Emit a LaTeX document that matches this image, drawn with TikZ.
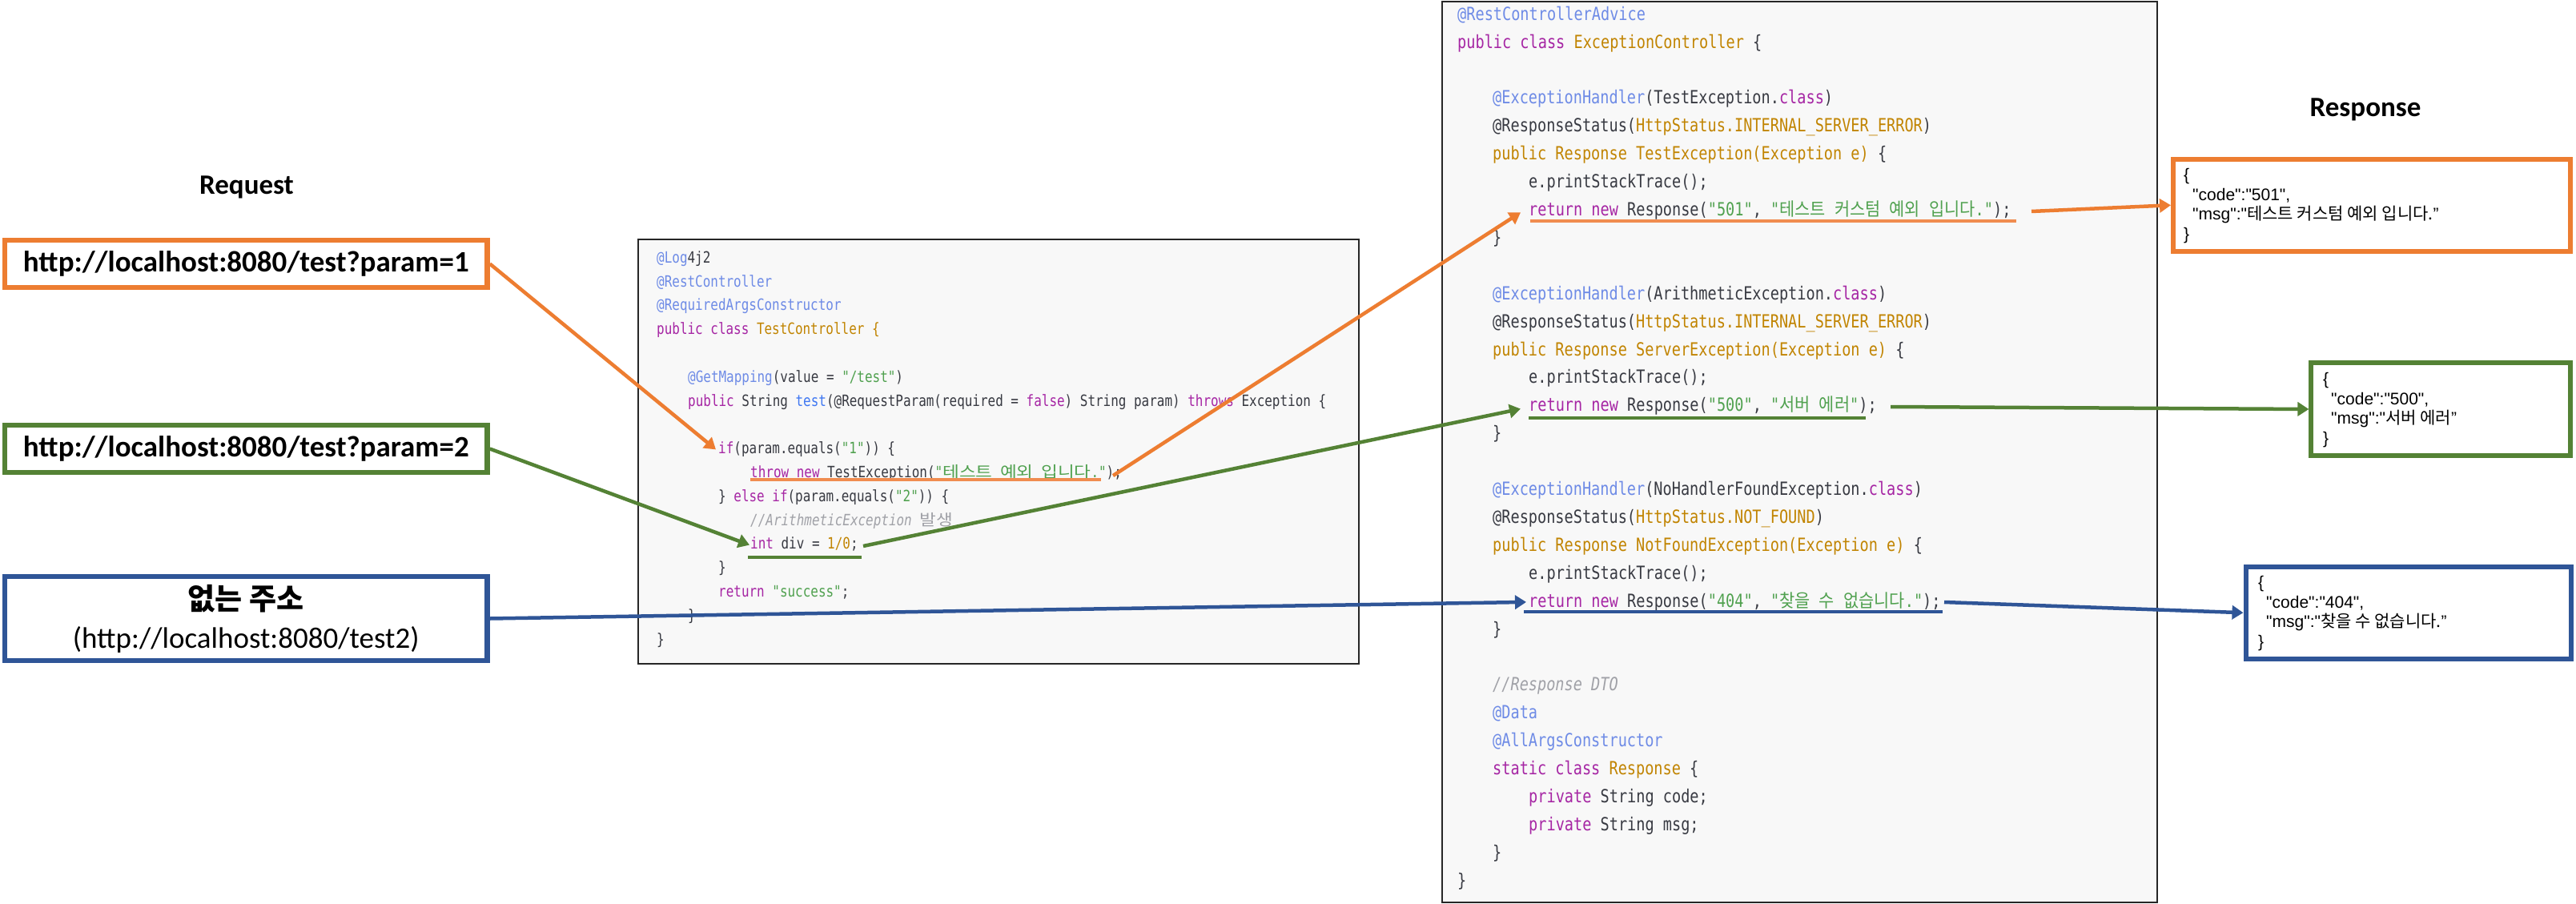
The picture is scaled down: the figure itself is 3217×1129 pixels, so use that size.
\documentclass[tikz,border=0pt]{standalone}
\usepackage{fontspec}
\setmainfont{Carlito}
\newfontfamily\codefont[FakeStretch=0.82]{DejaVu Sans Mono}
\newfontfamily\krA[FakeStretch=1.16]{Noto Sans CJK KR}
\newfontfamily\krB[FakeStretch=0.92]{Noto Sans CJK KR}
\newfontfamily\krH{Noto Sans CJK KR}
\newfontfamily\arialf{Liberation Sans}
\usetikzlibrary{arrows.meta}

\definecolor{orng}{HTML}{ED7D31}
\definecolor{orngu}{RGB}{240,140,80}
\definecolor{grn}{HTML}{548235}
\definecolor{blu}{HTML}{2F5597}
\definecolor{annc}{RGB}{110,139,230}
\definecolor{kwc}{RGB}{166,38,164}
\definecolor{clsc}{RGB}{193,132,1}
\definecolor{strc}{RGB}{80,161,79}
\definecolor{fnc}{RGB}{64,120,242}
\definecolor{cmtc}{RGB}{160,161,167}
\definecolor{txtc}{RGB}{56,58,66}
\definecolor{codebgc}{RGB}{248,248,248}

\newcommand{\hlA}[1]{\textcolor{annc}{#1}}
\newcommand{\hlK}[1]{\textcolor{kwc}{#1}}
\newcommand{\hlC}[1]{\textcolor{clsc}{#1}}
\newcommand{\hlS}[1]{\textcolor{strc}{#1}}
\newcommand{\hlF}[1]{\textcolor{fnc}{#1}}
\newcommand{\hlM}[1]{\textcolor{cmtc}{#1}}
\newcommand{\KA}[1]{{\krA #1}}
\newcommand{\KB}[1]{{\krB #1}}

\tikzset{
  reqbox/.style={draw, line width=6.5pt, fill=white, inner sep=0pt, align=center,
    font=\fontsize{37}{48}\selectfont},
  respbox/.style={draw, line width=6pt, fill=white, inner sep=0pt},
  codebg/.style={draw=black!85, line width=2.2pt, fill=codebgc},
  mline/.style={anchor=west, inner sep=0pt, text height=14.6pt, text depth=3.9pt,
    font=\codefont\fontsize{19.45}{23}\selectfont, text=txtc},
  rline/.style={anchor=west, inner sep=0pt, text height=17pt, text depth=4.5pt,
    font=\codefont\fontsize{22.65}{27}\selectfont, text=txtc},
  conn/.style={line width=4.5pt, -{Triangle[length=14pt,width=17pt]}},
  uline/.style={line width=4pt},
  titletext/.style={font=\bfseries\fontsize{35}{42}\selectfont, inner sep=0pt},
  resptext/.style={anchor=west, align=left, inner sep=0pt,
    font=\arialf\fontsize{21}{24.7}\selectfont},
}

\begin{document}
\begin{tikzpicture}[x=1pt,y=-1pt]
\useasboundingbox (0,0) rectangle (3217,1129);
\fill[white] (0,0) rectangle (3217,1129);

% titles
\node[titletext] (reqtitle) at (308,234) {Request};
\node[titletext] (resptitle) at (2954,137) {Response};

% request boxes
\node[reqbox, draw=orng, minimum width=602.5, minimum height=59] (req1) at (307.25,329.5)
  {\bfseries http://localhost:8080/test?param=1};
\node[reqbox, draw=grn, minimum width=602.5, minimum height=59] (req2) at (307.25,560.5)
  {\bfseries http://localhost:8080/test?param=2};
\node[reqbox, draw=blu, minimum width=602.5, minimum height=105] (req3) at (307.25,772.5)
  {{\krH\bfseries 없는 주소}\\(http://localhost:8080/test2)};

% code boxes
\draw[codebg] (797,299) rectangle (1697,829);
\draw[codebg] (1801,2) rectangle (2694,1127);

% middle code (TestController)
\node[mline] (m0) at (820,323) {\hlA{@Log}4j2};
\node[mline] (m1) at (820,352.8) {\hlA{@RestController}};
\node[mline] (m2) at (820,382.6) {\hlA{@RequiredArgsConstructor}};
\node[mline] (m3) at (820,412.4) {\hlK{public} \hlK{class} \hlC{TestController \{}};
\node[mline] (m5) at (859,472) {\hlA{@GetMapping}(value = \hlS{"/test"})};
\node[mline] (m6) at (859,501.8) {\hlK{public} String \hlF{test}(@RequestParam(required = \hlK{false}) String param) \hlK{throws} Exception \{};
\node[mline] (m8) at (897,561.4) {\hlK{if}(param.equals(\hlS{"1"})) \{};
\node[mline] (m9) at (937,591.2) {\hlK{throw} \hlK{new} TestException(\hlS{"\KA{테스트} \KA{예외} \KA{입니다}."});};
\node[mline] (m10) at (897,621) {\} \hlK{else} \hlK{if}(param.equals(\hlS{"2"})) \{};
\node[mline] (m11) at (937,650.8) {\hlM{\itshape //ArithmeticException} \hlM{\KA{발생}}};
\node[mline] (m12) at (937,680.6) {\hlK{int} div = \hlC{1/0};};
\node[mline] (m13) at (897,710.4) {\}};
\node[mline] (m14) at (897,740.2) {\hlK{return} \hlS{"success"};};
\node[mline] (m15) at (859,770) {\}};
\node[mline] (m16) at (820,799.8) {\}};

% right code (ExceptionController)
\node[rline] (r0) at (1820,19) {\hlA{@RestControllerAdvice}};
\node[rline] (r1) at (1820,53.9) {\hlK{public} \hlK{class} \hlC{ExceptionController} \{};
\node[rline] (r3) at (1864,123.7) {\hlA{@ExceptionHandler}(TestException.\hlK{class})};
\node[rline] (r4) at (1864,158.6) {@ResponseStatus(\hlC{HttpStatus.INTERNAL\_SERVER\_ERROR})};
\node[rline] (r5) at (1864,193.5) {\hlC{public Response TestException(Exception e)} \{};
\node[rline] (r6) at (1909,228.4) {e.printStackTrace();};
\node[rline] (r7) at (1909,263.3) {\hlK{return} \hlK{new} Response(\hlS{"501"}, \hlS{"\KB{테스트} \KB{커스텀} \KB{예외} \KB{입니다}."});};
\node[rline] (r8) at (1864,298.2) {\}};
\node[rline] (r10) at (1864,368) {\hlA{@ExceptionHandler}(ArithmeticException.\hlK{class})};
\node[rline] (r11) at (1864,402.9) {@ResponseStatus(\hlC{HttpStatus.INTERNAL\_SERVER\_ERROR})};
\node[rline] (r12) at (1864,437.8) {\hlC{public Response ServerException(Exception e)} \{};
\node[rline] (r13) at (1909,472.7) {e.printStackTrace();};
\node[rline] (r14) at (1909,507.6) {\hlK{return} \hlK{new} Response(\hlS{"500"}, \hlS{"\KB{서버} \KB{에러}"});};
\node[rline] (r15) at (1864,542.5) {\}};
\node[rline] (r17) at (1864,612.3) {\hlA{@ExceptionHandler}(NoHandlerFoundException.\hlK{class})};
\node[rline] (r18) at (1864,647.2) {@ResponseStatus(\hlC{HttpStatus.NOT\_FOUND})};
\node[rline] (r19) at (1864,682.1) {\hlC{public Response NotFoundException(Exception e)} \{};
\node[rline] (r20) at (1909,717) {e.printStackTrace();};
\node[rline] (r21) at (1909,751.9) {\hlK{return} \hlK{new} Response(\hlS{"404"}, \hlS{"\KB{찾을} \KB{수} \KB{없습니다}."});};
\node[rline] (r22) at (1864,786.8) {\}};
\node[rline] (r24) at (1864,856.6) {\hlM{\itshape //Response DTO}};
\node[rline] (r25) at (1864,891.5) {\hlA{@Data}};
\node[rline] (r26) at (1864,926.4) {\hlA{@AllArgsConstructor}};
\node[rline] (r27) at (1864,961.3) {\hlK{static} \hlK{class} \hlC{Response} \{};
\node[rline] (r28) at (1909,996.2) {\hlK{private} String code;};
\node[rline] (r29) at (1909,1031.1) {\hlK{private} String msg;};
\node[rline] (r30) at (1864,1066) {\}};
\node[rline] (r31) at (1820,1100.9) {\}};

% response boxes
\node[respbox, draw=orng, minimum width=496, minimum height=114.5] (resp1) at (2962,256.25) {};
\node[respbox, draw=grn, minimum width=323.6, minimum height=116] (resp2) at (3048.2,511) {};
\node[respbox, draw=blu, minimum width=406.5, minimum height=114.5] (resp3) at (3007.75,765.25) {};

\node[resptext] (t1) at (2727,257) {\{\\ \hspace*{11pt}"code":"501",\\ \hspace*{11pt}"msg":"{\krH 테스트 커스텀 예외 입니다.}”\\ \}};
\node[resptext] (t2) at (2901,512) {\{\\ \hspace*{10pt}"code":"500",\\ \hspace*{10pt}"msg":"{\krH 서버 에러}”\\ \}};
\node[resptext] (t3) at (2820,766) {\{\\ \hspace*{10pt}"code":"404",\\ \hspace*{10pt}"msg":"{\krH 찾을 수 없습니다.}”\\ \}};

% underline coordinates
\coordinate (u1a) at (937,599);  \coordinate (u1b) at (1375,599);
\coordinate (u2a) at (934,696);  \coordinate (u2b) at (1076,696);
\coordinate (u3a) at (1911,276); \coordinate (u3b) at (2518,276);
\coordinate (u4a) at (1909,522); \coordinate (u4b) at (2330,522);
\coordinate (u5a) at (1903,764); \coordinate (u5b) at (2426,764);

\draw[uline, orngu] (u1a) -- (u1b);
\draw[uline, grn] (u2a) -- (u2b);
\draw[uline, orngu] (u3a) -- (u3b);
\draw[uline, grn] (u4a) -- (u4b);
\draw[uline, blu] (u5a) -- (u5b);

% arrow start points after statements
\coordinate (o2s) at (1390,594);
\coordinate (g2s) at (1078,682);
\coordinate (o3s) at (2537,264);
\coordinate (g3s) at (2361,508);
\coordinate (b3s) at (2428,752);

% connectors
\draw[conn, orng] (req1.east) -- ([xshift=-3pt]m8.west);
\draw[conn, grn] (req2.east) -- ([xshift=-1pt]m12.west);
\draw[conn, blu] (req3.east) -- ([xshift=-3pt]r21.west);
\draw[conn, orng] (o2s) -- ([xshift=-10pt,yshift=-2pt]r7.west);
\draw[conn, grn] (g2s) -- ([xshift=-10pt,yshift=-3pt]r14.west);
\draw[conn, orng] (o3s) -- (resp1.west);
\draw[conn, grn] (g3s) -- (resp2.west);
\draw[conn, blu] (b3s) -- (resp3.west);
\end{tikzpicture}
\end{document}
